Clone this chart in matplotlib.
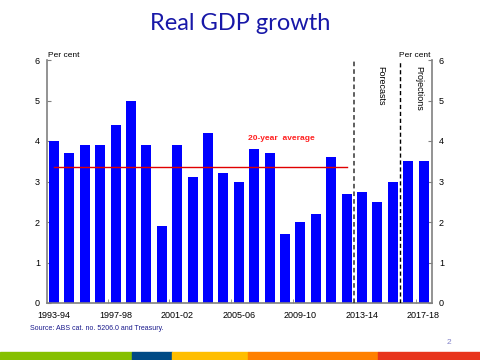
import matplotlib.pyplot as plt
import matplotlib.patches as patches

# data
years = ['1993-94', '1994-95', '1995-96', '1996-97', '1997-98', '1998-99', '1999-00',
         '2000-01', '2001-02', '2002-03', '2003-04', '2004-05', '2005-06', '2006-07',
         '2007-08', '2008-09', '2009-10', '2010-11', '2011-12', '2012-13', '2013-14',
         '2014-15', '2015-16', '2016-17', '2017-18']
growth = [4.0, 3.7, 3.9, 3.9, 4.4, 5.0, 3.9, 1.9, 3.9, 3.1, 4.2, 3.2, 3.0, 3.8,
          3.7, 1.7, 2.0, 2.2, 3.6, 2.7, 2.75, 2.5, 3.0, 3.5, 3.5]
avg_20yr = 3.35
avg_start, avg_end = 0, 19
forecast_line = 19.5
projection_line = 22.5
tick_idx = [0, 4, 8, 12, 16, 20, 24]

strip_edges = [0, 132, 172, 248, 378, 480]
strip_colors = ['#86C000', '#004A85', '#FFBE00', '#FF8000', '#E8341C']

plt.rcParams['font.family'] = ['Liberation Sans', 'DejaVu Sans']

fig = plt.figure(figsize=(4.8, 3.6), dpi=100)
ax = fig.add_axes([47/480, 1-303/360, 385/480, 243/360])

x = list(range(len(years)))
ax.bar(x, growth, width=0.65, color='#0000FF', zorder=2)
ax.plot([avg_start, avg_end], [avg_20yr, avg_20yr], color='#E00000', lw=1.0, zorder=3)
ax.text(14.8, 4.05, '20-year  average', color='#FF2020', fontsize=6, fontweight='bold',
        ha='center', va='center')

ax.axvline(forecast_line, color='#333333', ls=(0, (3, 2)), lw=1.1, zorder=4)
ax.axvline(projection_line, color='black', ls=(0, (3, 2)), lw=1.0, zorder=4)
ax.text(21.2, 5.84, 'Forecasts', rotation=270, fontsize=6.5, ha='center', va='top')
ax.text(23.7, 5.84, 'Projections', rotation=270, fontsize=6.5, ha='center', va='top')

ax.set_xlim(-0.45, 24.55)
ax.set_ylim(0, 6)
ax.set_yticks(range(7))
ax.set_xticks([t for t in tick_idx])
ax.set_xticklabels([years[t] for t in tick_idx])
ax.set_xticks([3.5 + 4*k for k in range(6)], minor=True)
ax.tick_params(axis='x', which='major', length=0, labelsize=6.5, pad=6)
ax.tick_params(axis='x', which='minor', length=3, direction='in', color='#808080')
ax.tick_params(axis='y', length=3, direction='in', color='#808080', labelsize=6.5,
               left=True, right=True, labelleft=True, labelright=True, pad=5)
for s in ['left', 'right', 'bottom']:
    ax.spines[s].set_color('#808080')
    ax.spines[s].set_linewidth(1.2)
ax.spines['top'].set_visible(False)

ax.text(0.003, 1.005, 'Per cent', transform=ax.transAxes, fontsize=6, ha='left', va='bottom')
ax.text(0.997, 1.005, 'Per cent', transform=ax.transAxes, fontsize=6, ha='right', va='bottom')

fig.text(0.5, 1-24/360, 'Real GDP growth', fontsize=17, color='#1818A8',
         family=['Lato', 'DejaVu Sans'], ha='center', va='center')
fig.text(30/480, 1-328/360, 'Source: ABS cat. no. 5206.0 and Treasury.', fontsize=5,
         color='#1A1A8C', ha='left', va='center')
fig.text(449/480, 1-343/360, '2', fontsize=6, color='#8080C8', ha='center', va='center')

for i in range(len(strip_colors)):
    fig.patches.append(patches.Rectangle((strip_edges[i]/480, 0), (strip_edges[i+1]-strip_edges[i])/480,
                                         8/360, transform=fig.transFigure, color=strip_colors[i]))

fig.savefig('out.png', dpi=100)
